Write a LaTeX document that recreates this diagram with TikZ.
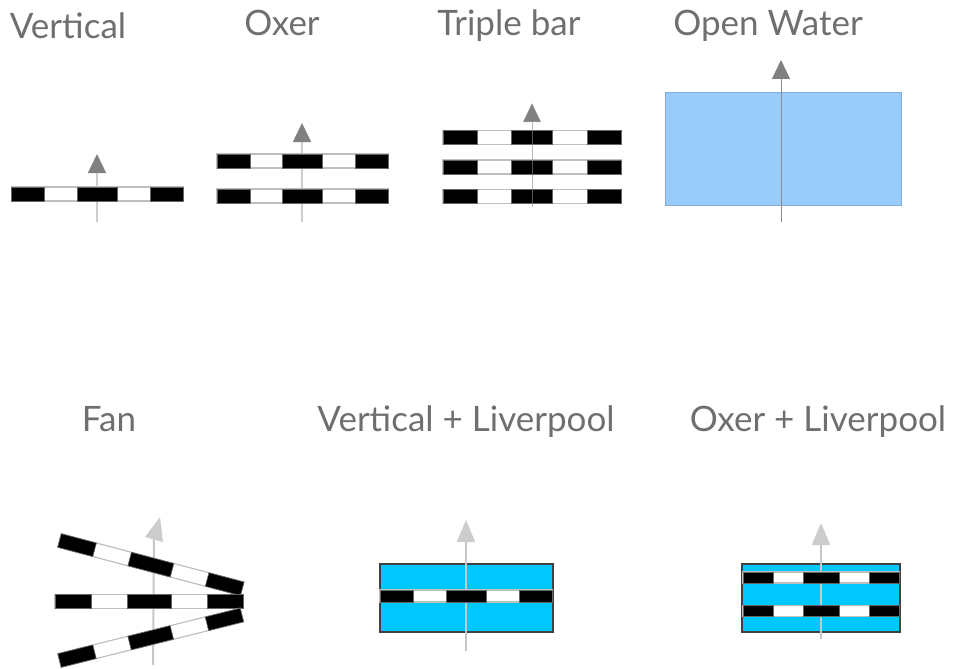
\documentclass[tikz,border=0pt]{standalone}
\usepackage{fontspec}
\setmainfont{Lato}
\usetikzlibrary{arrows.meta}
\definecolor{labelgray}{HTML}{6F6F6F}
\definecolor{poolblue}{HTML}{00C8FF}
\definecolor{waterblue}{HTML}{99CCFA}
\tikzstyle{jumplabel}=[text=labelgray, inner sep=0, anchor=base, font=\fontsize{35}{42}\selectfont]
\tikzstyle{railbar}=[fill=black, draw=black!60, line width=0.6]
\tikzstyle{railback}=[fill=white, draw=black!25, line width=1.2]
\tikzstyle{pool}=[fill=poolblue, draw=black!75, line width=1.4]
\tikzstyle{water}=[fill=waterblue, draw=waterblue!85!black, line width=0.8]
\tikzstyle{darkarrow}=[draw=black!20, line width=1.5, -{Triangle[length=19, width=18, color=black!50]}]
\tikzstyle{midarrow}=[draw=black!45, line width=1, -{Triangle[length=19, width=18, color=black!50]}]
\tikzstyle{lightarrow}=[draw=black!22, line width=2, -{Triangle[length=22, width=18, color=black!20]}]
% one rail: x, y of the left end centre, angle, length, height
\newcommand{\drawrail}[5]{
  \begin{scope}[shift={(#1,#2)}, rotate=#3]
    \draw[railback] (0,-#5/2) rectangle (#4,#5/2);
    \draw[railbar] (0,-#5/2) rectangle (.192*#4,#5/2);
    \draw[railbar] (.384*#4,-#5/2) rectangle (.616*#4,#5/2);
    \draw[railbar] (.808*#4,-#5/2) rectangle (#4,#5/2);
  \end{scope}
}

\begin{document}
\begin{tikzpicture}[x=1pt, y=-1pt]
  \useasboundingbox (0,0) rectangle (954,669);
  % top row
  \node[jumplabel] (vertical) at (68,38.5) {Vertical};
  \node[jumplabel] (oxer) at (282,36) {Oxer};
  \node[jumplabel] (triple) at (509,36) {Triple bar};
  \node[jumplabel] (open) at (768,36) {Open Water};
  \coordinate (A1) at (97,222);
  \coordinate (A2) at (97,154);
  \draw[darkarrow] (A1) -- (A2);
  \drawrail{11.5}{194}{0}{172}{14}
  \coordinate (B1) at (302,222);
  \coordinate (B2) at (302,123);
  \draw[darkarrow] (B1) -- (B2);
  \drawrail{217}{161}{0}{171}{14}
  \drawrail{217}{196}{0}{171}{14}
  \drawrail{443}{137.5}{0}{178}{14}
  \drawrail{443}{167}{0}{178}{14}
  \drawrail{443}{196.5}{0}{178}{14}
  \coordinate (C1) at (532,207);
  \coordinate (C2) at (532,103);
  \draw[midarrow, draw opacity=.6] (C1) -- (C2);
  \draw[water] (665.5,92) rectangle (901,205.5);
  \coordinate (D1) at (781,222);
  \coordinate (D2) at (781,60);
  \draw[midarrow] (D1) -- (D2);
  % bottom row
  \node[jumplabel] (fan) at (109,431) {Fan};
  \node[jumplabel] (vertliv) at (466,431) {Vertical + Liverpool};
  \node[jumplabel] (oxerliv) at (818,431) {Oxer + Liverpool};
  \coordinate (E1) at (153,665);
  \coordinate (E2) at (154,539);
  \coordinate (E3) at (160,517);
  \coordinate (E4) at (145,537);
  \coordinate (E5) at (163,542);
  \draw[black!22, line width=2] (E1) -- (E2);
  \fill[black!20] (E3) -- (E4) -- (E5) -- cycle;
  \drawrail{59.5}{540.5}{-14.8}{189}{14}
  \drawrail{55}{601.5}{0}{188}{14}
  \drawrail{59.5}{660.5}{14}{188}{14}
  \draw[pool] (380,564) rectangle (553,632);
  \coordinate (F1) at (466,651);
  \coordinate (F2) at (466,520);
  \draw[lightarrow] (F1) -- (F2);
  \drawrail{380}{596}{0}{172}{12}
  \draw[pool] (742,564) rectangle (900,632);
  \coordinate (G1) at (821,639);
  \coordinate (G2) at (821,523);
  \draw[lightarrow] (G1) -- (G2);
  \drawrail{743}{577.5}{0}{156}{11}
  \drawrail{743}{611}{0}{156}{11}
\end{tikzpicture}
\end{document}
